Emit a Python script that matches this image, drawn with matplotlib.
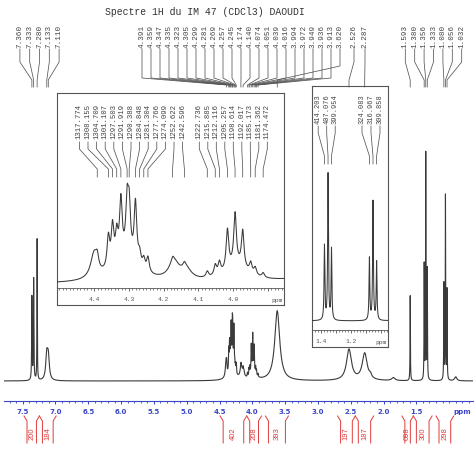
import numpy as np
import matplotlib
matplotlib.use("Agg")
import matplotlib.pyplot as plt
from matplotlib.ticker import MultipleLocator

W, H = 476, 456

""" Data read off the spectrum """

# peak list: chemical shift (ppm), height (main trace units), half width (ppm)
shifts = [7.360, 7.333, 7.280, 7.133, 7.110,
          4.400, 4.391, 4.359, 4.347, 4.335, 4.323, 4.305, 4.299, 4.281, 4.269, 4.257, 4.245, 4.310,
          4.174, 4.170, 4.140, 4.135,
          4.074, 4.051, 4.039, 4.016, 3.994, 3.972, 3.949, 3.936, 3.913, 3.990,
          3.620, 2.526, 2.287, 2.200, 1.850,
          1.593, 1.380, 1.356, 1.333, 1.080, 1.056, 1.032, 0.900]
heights = [83, 101, 141, 24, 22,
           17, 7, 21, 26, 18, 39, 35, 32, 41, 8, 7, 10, 15,
           3, 12, 3, 7,
           4, 7, 8, 27, 35, 25, 7, 5, 3, 10,
           70, 31, 27, 3, 3,
           85, 115, 226, 110, 96, 184, 90, 4]
widths = [0.004, 0.004, 0.003, 0.018, 0.018,
          0.012, 0.0045, 0.0045, 0.0045, 0.0045, 0.0045, 0.0045, 0.0045, 0.0045, 0.0045, 0.0045, 0.0045, 0.045,
          0.0045, 0.018, 0.0045, 0.018,
          0.0045, 0.0045, 0.0045, 0.0045, 0.0045, 0.0045, 0.0045, 0.0045, 0.0045, 0.04,
          0.045, 0.045, 0.045, 0.02, 0.03,
          0.003, 0.003, 0.003, 0.003, 0.003, 0.003, 0.003, 0.02]

# labelled peaks of the main trace (ppm)
labels_aromatic = [7.360, 7.333, 7.280, 7.133, 7.110]
labels_middle = [4.391, 4.359, 4.347, 4.335, 4.323, 4.305, 4.299, 4.281, 4.269, 4.257, 4.245,
                 4.174, 4.140, 4.074, 4.051, 4.039, 4.016, 3.994, 3.972, 3.949, 3.936, 3.913]
labels_single = [3.620]
labels_ch2 = [2.526, 2.287]
labels_aliphatic = [1.593, 1.380, 1.356, 1.333, 1.080, 1.056, 1.032]

# labels of the zoomed insets, in Hz
hz_left = ["1317.774", "1308.155", "1304.709", "1301.107", "1297.503", "1291.919", "1290.388",
           "1284.848", "1281.304", "1277.766", "1274.099", "1252.622", "1242.596"]
hz_right = ["1222.736", "1215.885", "1212.116", "1205.257", "1198.614", "1192.017", "1185.173",
            "1181.362", "1174.472"]
hz_triplet_a = ["414.203", "407.076", "399.954"]
hz_triplet_b = ["324.083", "316.967", "309.858"]

# integrals: start / end (ppm) and value
integral_start = [7.48, 7.245, 4.49, 4.085, 3.80, 2.70, 2.43, 1.72, 1.545, 1.20]
integral_end = [7.245, 6.99, 4.085, 3.86, 3.45, 2.43, 2.15, 1.545, 1.26, 0.93]
integral_value = ["200", "184", "402", "208", "393", "197", "187", "098", "300", "298"]

# axis ticks
main_ticks = [7.5, 7.0, 6.5, 6.0, 5.5, 5.0, 4.5, 4.0, 3.5, 3.0, 2.5, 2.0, 1.5]
inset1_ticks = [4.4, 4.3, 4.2, 4.1, 4.0, 3.9]
inset1_ticklabels = ["4.4", "4.3", "4.2", "4.1", "4.0", ""]
inset2_ticks = [1.4, 1.3, 1.2, 1.1, 1.0]
inset2_ticklabels = ["1.4", "", "1.2", "", ""]

title = "Spectre 1H du IM 47 (CDCl3) DAOUDI"

BLUE = "#3a45c8"
RED = "#e23a3a"
TRACE = "#3a3a3a"
GREY = "#555555"
MONO = "Liberation Mono"


""" Helper Functions """

# pixel box measured from the top left -> figure fraction rectangle
def fig_box(x0, y0, x1, y1):
    return [x0 / W, 1 - y1 / H, (x1 - x0) / W, (y1 - y0) / H]

# sum of lorentzian lines
def spectrum(x):
    y = np.zeros_like(x)
    for c, h, w in zip(shifts, heights, widths):
        y += h * w ** 2 / ((x - c) ** 2 + w ** 2)
    return y

# a boxed zoom of a part of the spectrum
def make_inset(box, spine_y, xlim, ylim, ticks, ticklabels, minor):
    x0, y0, x1, y1 = box
    frame = fig.add_axes(fig_box(x0, y0, x1, y1))
    frame.set_xticks([])
    frame.set_yticks([])
    frame.set_facecolor("white")
    for s in frame.spines.values():
        s.set_color(GREY)
        s.set_linewidth(0.8)

    a = fig.add_axes(fig_box(x0, y0, x1, spine_y))
    a.patch.set_alpha(0)
    for s in ("left", "right", "top"):
        a.spines[s].set_visible(False)
    a.spines["bottom"].set_color(GREY)
    a.spines["bottom"].set_linewidth(0.6)
    a.set_yticks([])
    x = np.linspace(xlim[0], xlim[1], 8000)
    a.plot(x, spectrum(x), color=TRACE, lw=0.75)
    a.set_xlim(*xlim)
    a.set_ylim(*ylim)
    a.set_xticks(ticks)
    a.set_xticklabels(ticklabels, family=MONO, fontsize=4.5, color=GREY)
    a.xaxis.set_minor_locator(MultipleLocator(minor))
    a.tick_params(axis="x", which="major", length=2.5, width=0.6, color=GREY, pad=3)
    a.tick_params(axis="x", which="minor", length=1.2, width=0.5, color=GREY)
    a.annotate("ppm", xy=(1, 0), xycoords="axes fraction", xytext=(-1, -8),
               textcoords="offset points", ha="right", va="center",
               family=MONO, fontsize=4.5, color=GREY)
    return a

# ppm value -> pixel x in the overlay
def to_px(axes, value):
    disp = axes.transData.transform((value, 0))
    return ov.transData.inverted().transform(disp)[0]

# a row of rotated peak labels with bent connector lines
def label_group(axes, values, texts, center, spacing, ys, size):
    n = len(values)
    xs = center + spacing * (np.arange(n) - (n - 1) / 2)
    for xl, v, t in zip(xs, values, texts):
        xp = to_px(axes, v)
        ov.plot([xl, xl, xp, xp], ys[1:], color=GREY, lw=0.55)
        ov.text(xl, ys[0], t, rotation=90, ha="center", va="bottom",
                family=MONO, fontsize=size, color="#444444")

# integral bracket under the axis
def bracket(xl, xr, label):
    f, top, knee, bottom = 3, 417, 422, 444
    ov.plot([xl, xl + f, xl + f], [top, knee, bottom], color=RED, lw=0.7)
    ov.plot([xr, xr - f, xr - f], [top, knee, bottom], color=RED, lw=0.7)
    ov.text((xl + xr) / 2, (knee + bottom) / 2 + 1, label, rotation=90, ha="center",
            va="center", fontsize=5.5, color=RED, family="Liberation Sans")


""" Figure """

fig = plt.figure(figsize=(W / 100, H / 100), dpi=100)

# main trace
ax = fig.add_axes(fig_box(4, 88, 473, 402))
ax.patch.set_alpha(0)
x_main = np.linspace(7.785, 0.636, 60000)
ax.plot(x_main, spectrum(x_main), color=TRACE, lw=0.8)
ax.set_xlim(7.785, 0.636)
ax.set_ylim(-20, 294)
for s in ("left", "right", "top"):
    ax.spines[s].set_visible(False)
ax.spines["bottom"].set_color(BLUE)
ax.spines["bottom"].set_linewidth(0.8)
ax.set_yticks([])
ax.set_xticks(main_ticks)
ax.set_xticklabels([f"{t:.1f}" for t in main_ticks], fontsize=5, fontweight="bold", color=BLUE)
ax.xaxis.set_minor_locator(MultipleLocator(0.1))
ax.tick_params(axis="x", which="major", length=2.5, width=0.7, color=BLUE, pad=2.5)
ax.tick_params(axis="x", which="minor", length=1.3, width=0.6, color=BLUE)
ax.annotate("ppm", xy=(1, 0), xycoords="axes fraction", xytext=(-1.5, -7.5),
            textcoords="offset points", ha="right", va="center",
            fontsize=5, fontweight="bold", color=BLUE)

# zoomed insets
in1 = make_inset((57, 94, 284, 306), 289, (4.507, 3.853), (-4 / 1.48, 191 / 1.48),
                 inset1_ticks, inset1_ticklabels, 0.01)
in2 = make_inset((312, 87, 388, 348), 331, (1.463, 0.956), (-9 / 0.646, 235 / 0.646),
                 inset2_ticks, inset2_ticklabels, 0.02)

# overlay in pixel coordinates for labels and brackets
ov = fig.add_axes([0, 0, 1, 1])
ov.set_xlim(0, W)
ov.set_ylim(H, 0)
ov.axis("off")
ov.patch.set_alpha(0)

ov.text(205, 12, title, ha="center", va="center", family=MONO, fontsize=7, color="#333333")

fmt = lambda vals: [f"{v:.3f}" for v in vals]
label_group(ax, labels_aromatic, fmt(labels_aromatic), 39.5, 9.8, (48, 50, 63, 81, 88), 5.5)
label_group(ax, labels_middle, fmt(labels_middle), 236.5, 9.0, (48, 50, 79, 86, 88), 5.5)
label_group(ax, labels_single, fmt(labels_single), 340, 9.0, (48, 50, 67, 81, 88), 5.5)
label_group(ax, labels_ch2, fmt(labels_ch2), 359.5, 11.0, (48, 50, 63, 81, 88), 5.5)
label_group(ax, labels_aliphatic, fmt(labels_aliphatic), 433.5, 9.4, (48, 50, 63, 81, 88), 5.5)

label_group(in1, labels_middle[:13], hz_left, 131, 8.6, (139, 143, 150, 170, 178), 5.3)
label_group(in1, labels_middle[13:], hz_right, 233.3, 8.5, (139, 143, 150, 170, 178), 5.3)
label_group(in2, labels_aliphatic[1:4], hz_triplet_a, 326.7, 8.5, (124, 127, 134, 157, 165), 5.0)
label_group(in2, labels_aliphatic[4:], hz_triplet_b, 371, 9.0, (124, 127, 134, 157, 165), 5.0)

for a, b, v in zip(integral_start, integral_end, integral_value):
    bracket(to_px(ax, a), to_px(ax, b), v)

fig.savefig("out.png", dpi=100)
